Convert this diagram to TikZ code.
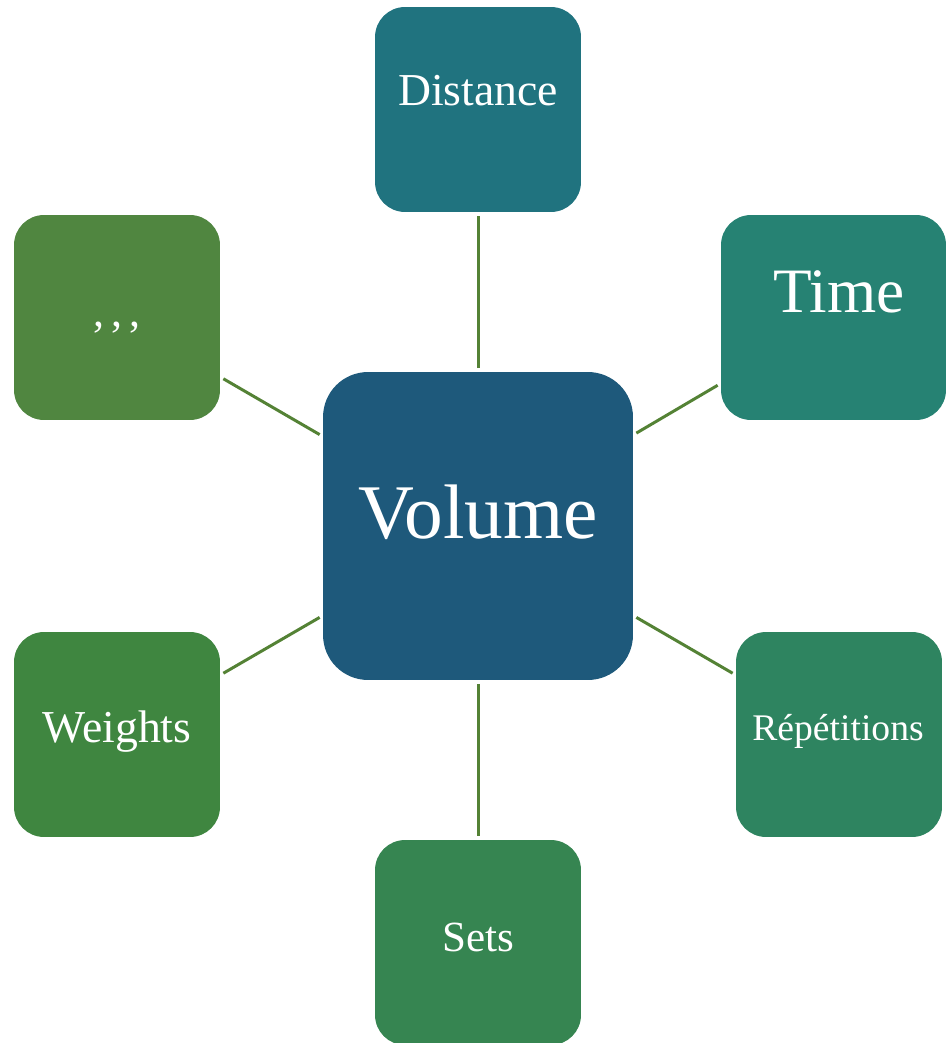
\documentclass[tikz,border=0pt]{standalone}
\usepackage{fontspec}
\setmainfont{Liberation Serif}
\usepackage{tikz}
\usetikzlibrary{positioning}
\definecolor{volblue}{RGB}{30, 89, 123}
\definecolor{distteal}{RGB}{32, 115, 127}
\definecolor{timeteal}{RGB}{38, 130, 115}
\definecolor{repgreen}{RGB}{46, 132, 96}
\definecolor{setsgreen}{RGB}{54, 133, 81}
\definecolor{wgtgreen}{RGB}{63, 134, 64}
\definecolor{dotgreen}{RGB}{80, 134, 64}
\definecolor{linkgreen}{RGB}{84, 130, 53}

\begin{document}
\begin{tikzpicture}[x=0.02cm, y=-0.02cm,
    box/.style={rectangle, rounded corners=0.6cm, inner sep=0pt,
        minimum width=4.12cm, minimum height=4.1cm},
    lbl/.style={text=white, inner sep=0pt, anchor=base},
    link/.style={draw=linkgreen, line width=1.7pt, shorten <=2pt, shorten >=2pt}]
    \clip (0,0) rectangle (946,1043);

    % boxes
    \node[box, fill=volblue, minimum width=6.2cm, minimum height=6.16cm, rounded corners=0.9cm] (vol) at (478,526) {};
    \node[box, fill=distteal] (dist) at (478,109.5) {};
    \node[box, fill=timeteal, minimum width=4.5cm] (time) at (833.5,317.5) {};
    \node[box, fill=repgreen] (rep) at (839,734.5) {};
    \node[box, fill=setsgreen] (sets) at (478,942.5) {};
    \node[box, fill=wgtgreen] (wgt) at (117,734.5) {};
    \node[box, fill=dotgreen] (dots) at (117,317.5) {};

    % labels
    \node[lbl, font=\fontsize{44}{50}\selectfont] (vollbl) at (478,538) {Volume};
    \node[lbl, font=\fontsize{26}{30}\selectfont] (distlbl) at (478,106) {Distance};
    \node[lbl, font=\fontsize{36}{40}\selectfont] (timelbl) at (839,313) {Time};
    \node[lbl, font=\fontsize{21.4}{25}\selectfont] (replbl) at (838,740) {Répétitions};
    \node[lbl, font=\fontsize{24.5}{28}\selectfont] (setslbl) at (478,951) {Sets};
    \node[lbl, font=\fontsize{26}{30}\selectfont] (wgtlbl) at (117,742) {Weights};
    \node[lbl, font=\fontsize{25}{30}\selectfont] (dotslbl) at (117,327) {,\hspace{0.15em},\hspace{0.15em},};

    % connectors
    \draw[link] (vol) -- (dist);
    \draw[link] (vol) -- (time);
    \draw[link] (vol) -- (rep);
    \draw[link] (vol) -- (sets);
    \draw[link] (vol) -- (wgt);
    \draw[link] (vol) -- (dots);
\end{tikzpicture}
\end{document}
